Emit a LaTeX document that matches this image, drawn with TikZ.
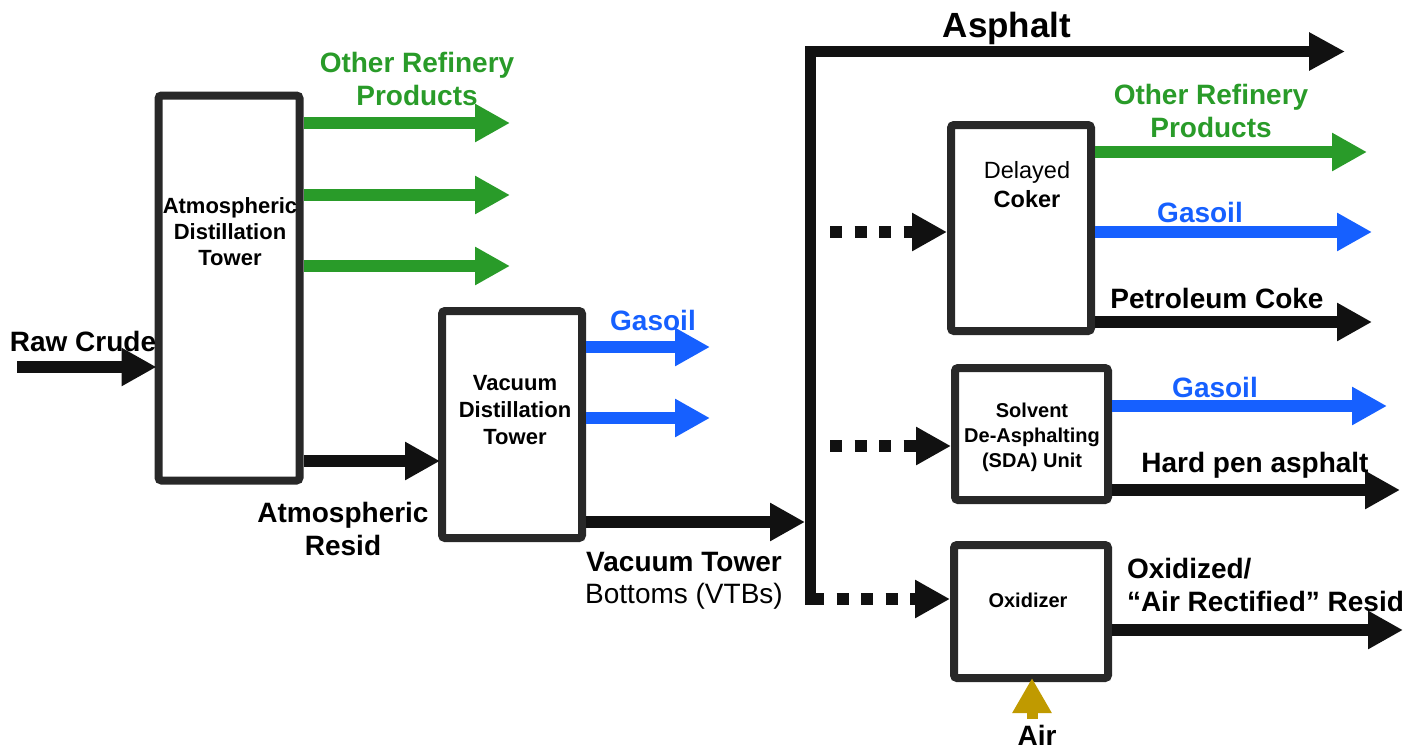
\documentclass[tikz,border=0pt]{standalone}
\usepackage{fontspec}
\setmainfont{Liberation Sans}
\usetikzlibrary{arrows.meta}
\definecolor{grn}{RGB}{41,155,41}
\definecolor{blu}{RGB}{22,96,255}
\definecolor{gld}{RGB}{192,154,0}
\definecolor{blk}{RGB}{17,17,17}
\definecolor{boxc}{RGB}{40,40,40}
\newcommand\fsz[2]{\fontsize{#1}{#2}\selectfont}
\begin{document}
\begin{tikzpicture}[x=0.5pt,y=-0.5pt,
  unitbox/.style={draw=boxc, line width=4pt, rounded corners=1.5pt, fill=white, inner sep=0pt},
  flow/.style={line width=6pt, draw=blk, -{Triangle[length=17.5pt,width=18pt]}},
  gflow/.style={flow, draw=grn, -{Triangle[length=17.5pt,width=18pt,fill=grn]}},
  bflow/.style={flow, draw=blu, -{Triangle[length=17.5pt,width=18pt,fill=blu]}},
  dotflow/.style={flow, dash pattern=on 6pt off 6.25pt},
  lbl/.style={inner sep=0pt, outer sep=0pt, align=center},
  big/.style={lbl, font=\fsz{14pt}{16.5pt}\bfseries},
]
\useasboundingbox (0,0) rectangle (1404,750);

% boxes
\node[unitbox, minimum width=70.5pt, minimum height=192.5pt] (adt) at (229,288) {};
\node[unitbox, minimum width=70pt, minimum height=113.5pt] (vdt) at (512,424.5) {};
\node[unitbox, minimum width=70pt, minimum height=103pt] (coker) at (1021,228) {};
\node[unitbox, minimum width=76.5pt, minimum height=66pt] (sda) at (1031.5,434) {};
\node[unitbox, minimum width=77pt, minimum height=66.5pt] (oxid) at (1031,611.5) {};

% box labels
\node[lbl, font=\fsz{11pt}{13pt}\bfseries] (adtlbl) at (230,232) {Atmospheric\\Distillation\\Tower};
\node[lbl, font=\fsz{11pt}{13.5pt}\bfseries] (vdtlbl) at (515,410) {Vacuum\\Distillation\\Tower};
\node[lbl, font=\fsz{11.75pt}{14.5pt}] (cokerlbl) at (1027,184.5) {Delayed\\\textbf{Coker}};
\node[lbl, font=\fsz{10pt}{12.5pt}\bfseries] (sdalbl) at (1032,437) {Solvent\\De-Asphalting\\(SDA) Unit};
\node[lbl, font=\fsz{10pt}{12.5pt}\bfseries] (oxidlbl) at (1028,600) {Oxidizer};

% free ends
\coordinate (rawstart) at (17,367);
\coordinate (g1) at (510,123);
\coordinate (g2) at (510,195);
\coordinate (g3) at (510,266);
\coordinate (ar) at (440,461);
\coordinate (vb1) at (710,347);
\coordinate (vb2) at (710,418);
\coordinate (vtbtip) at (805,522);
\coordinate (tb) at (810,599);
\coordinate (tt) at (810,51.5);
\coordinate (asp) at (1345,51.5);
\coordinate (d1) at (830,232);
\coordinate (d2) at (830,446);
\coordinate (d3) at (812,599);
\coordinate (cg) at (1367,152);
\coordinate (cb) at (1372,232);
\coordinate (cp) at (1372,322);
\coordinate (sb) at (1387,406);
\coordinate (sh) at (1400,490);
\coordinate (ox) at (1403,630);
\coordinate (airstart) at (1032,719);

% connectors
\draw[flow] (rawstart) -- ([xshift=1pt]adt.west |- rawstart);
\draw[gflow] (adt.east |- g1) -- (g1);
\draw[gflow] (adt.east |- g2) -- (g2);
\draw[gflow] (adt.east |- g3) -- (g3);
\draw[flow] (adt.east |- ar) -- ([xshift=1pt]vdt.west |- ar);
\draw[bflow] (vdt.east |- vb1) -- (vb1);
\draw[bflow] (vdt.east |- vb2) -- (vb2);
\draw[flow] (vdt.east |- vtbtip) -- (vtbtip);
\draw[line width=5.5pt, draw=blk, line join=miter, line cap=rect,
      -{Triangle[length=18pt,width=18pt]}] (tb) -- (tt) -- (asp);
\draw[dotflow] (d1) -- (coker.west |- d1);
\draw[dotflow] (d2) -- (sda.west |- d2);
\draw[dotflow] (d3) -- (oxid.west |- d3);
\draw[gflow] (coker.east |- cg) -- (cg);
\draw[bflow] (coker.east |- cb) -- (cb);
\draw[flow] (coker.east |- cp) -- (cp);
\draw[bflow] (sda.east |- sb) -- (sb);
\draw[flow] (sda.east |- sh) -- (sh);
\draw[flow] (oxid.east |- ox) -- (ox);
\draw[line width=5.5pt, draw=gld, -{Triangle[length=17.5pt,width=18.5pt,fill=gld]}] (airstart) -- ([yshift=2pt]oxid.south -| airstart);

% texts
\node[big, text=grn] (orp1) at (417,79) {Other Refinery\\Products};
\node[big] (raw) at (83,341) {Raw Crude};
\node[big] (atres) at (343,528.5) {Atmospheric\\Resid};
\node[big, text=blu] (gas1) at (653,320) {Gasoil};
\node[lbl, font=\fsz{14pt}{16pt}] (vtb) at (684,581) {\textbf{Vacuum Tower}\\Bottoms (VTBs)};
\node[lbl, font=\fsz{17.5pt}{20pt}\bfseries] (asph) at (1007,28.5) {Asphalt};
\node[big, text=grn] (orp2) at (1211,111) {Other Refinery\\Products};
\node[big, text=blu] (gas2) at (1200,212) {Gasoil};
\node[big] (pcoke) at (1217,298) {Petroleum Coke};
\node[big, text=blu] (gas3) at (1215,387) {Gasoil};
\node[big] (hpa) at (1255,465) {Hard pen asphalt};
\node[big, align=left, anchor=west] (oxd) at (1127,584.5) {Oxidized/\\“Air Rectified” Resid};
\node[big] (air) at (1037,735) {Air};
\end{tikzpicture}
\end{document}
